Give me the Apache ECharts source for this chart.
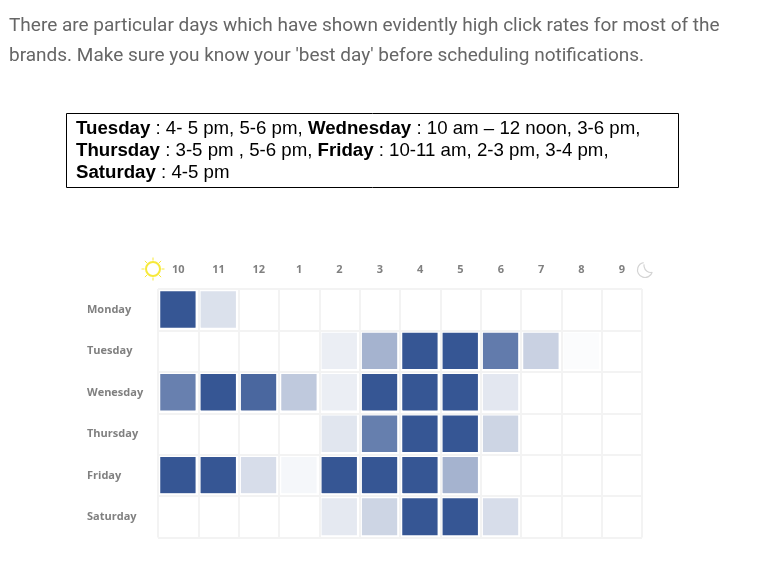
<!DOCTYPE html>
<html>
<head>
<meta charset="utf-8">
<style>
html, body { margin: 0; padding: 0; background: #fff; }
#main { width: 776px; height: 570px; }
</style>
<script src="https://cdn.jsdelivr.net/npm/echarts@6/dist/echarts.min.js"></script>
</head>
<body>
<div id="main"></div>
<script>
let hours = ['10', '11', '12', '1', '2', '3', '4', '5', '6', '7', '8', '9'];
let days = ['Monday', 'Tuesday', 'Wenesday', 'Thursday', 'Friday', 'Saturday'];

// how strong each cell looks, 0-100
let monday   = [100, 18, 0, 0, 0, 0, 0, 0, 0, 0, 0, 0];
let tuesday  = [0, 0, 0, 0, 10, 45, 100, 100, 78, 27, 2, 0];
let wenesday = [75, 100, 90, 32, 10, 100, 100, 100, 14, 0, 0, 0];
let thursday = [0, 0, 0, 0, 15, 76, 100, 100, 25, 0, 0, 0];
let friday   = [100, 100, 20, 5, 100, 100, 100, 45, 0, 0, 0, 0];
let saturday = [0, 0, 0, 0, 13, 25, 100, 100, 20, 0, 0, 0];

let rows = [monday, tuesday, wenesday, thursday, friday, saturday];
let cells = [];
rows.forEach(function (row, y) {
    row.forEach(function (v, x) {
        cells.push([x, y, v]);
    });
});

let gridLine = { show: true, lineStyle: { color: '#f3f3f3', width: 2 } };
let labelFont = '"Open Sans", sans-serif';

// sun rays
let sunRays = [];
for (let i = 0; i < 8; i++) {
    let a = i * Math.PI / 4;
    sunRays.push({
        type: 'line',
        shape: {
            x1: 153 + Math.cos(a) * 8.5, y1: 269 + Math.sin(a) * 8.5,
            x2: 153 + Math.cos(a) * 11.5, y2: 269 + Math.sin(a) * 11.5
        },
        style: { stroke: '#f7e93a', lineWidth: 1 }
    });
}

let myChart = echarts.init(document.getElementById('main'));
let option = {
    animation: false,
    backgroundColor: '#fff',
    grid: { left: 158, right: 134, top: 289, bottom: 32.5 },
    xAxis: {
        type: 'category',
        position: 'top',
        data: hours,
        z: 5,
        axisLine: { show: false },
        axisTick: { show: false },
        splitLine: gridLine,
        axisLabel: { margin: 14, color: '#808080', fontSize: 11, fontWeight: 'bold', fontFamily: labelFont }
    },
    yAxis: {
        type: 'category',
        inverse: true,
        data: days,
        z: 5,
        axisLine: { show: false },
        axisTick: { show: false },
        splitLine: gridLine,
        axisLabel: { margin: 71, align: 'left', color: '#808080', fontSize: 11, fontWeight: 'bold', fontFamily: labelFont }
    },
    visualMap: {
        show: false,
        min: 0,
        max: 100,
        inRange: { color: ['#ffffff', '#365694'] }
    },
    series: [{
        type: 'heatmap',
        data: cells,
        itemStyle: { borderColor: '#fff', borderWidth: 5 },
        emphasis: { disabled: true }
    }],
    graphic: [
        {
            type: 'text', x: 9, y: 11,
            style: {
                text: "There are particular days which have shown evidently high click rates for most of the\nbrands. Make sure you know your 'best day' before scheduling notifications.",
                font: '19px Roboto, sans-serif', fill: '#666', lineHeight: 30
            }
        },
        {
            type: 'rect',
            shape: { x: 66.5, y: 113.5, width: 612, height: 74 },
            style: { fill: '#fff', stroke: '#000', lineWidth: 1 }
        },
        {
            type: 'text', x: 76, y: 118,
            style: {
                text: '{b|Tuesday} : 4- 5 pm, 5-6 pm, {b|Wednesday} : 10 am – 12 noon, 3-6 pm,\n' +
                      '{b|Thursday} : 3-5 pm , 5-6 pm, {b|Friday} : 10-11 am, 2-3 pm, 3-4 pm,\n' +
                      '{b|Saturday} : 4-5 pm',
                font: '18.67px "Liberation Sans", sans-serif', fill: '#000', lineHeight: 22,
                rich: {
                    b: { font: 'bold 18.67px "Liberation Sans", sans-serif', fill: '#000', lineHeight: 22 }
                }
            }
        },
        {
            type: 'circle',
            shape: { cx: 153, cy: 269, r: 7 },
            style: { fill: '#fff', stroke: '#f7e93a', lineWidth: 2 }
        },
        {
            type: 'group',
            children: sunRays
        },
        {
            // moon, outer edge
            type: 'arc',
            shape: { cx: 645, cy: 270, r: 7.5, startAngle: 0.3, endAngle: -1.75, clockwise: true },
            style: { fill: 'none', stroke: '#d4d4d4', lineWidth: 1.2 }
        },
        {
            // moon, inner edge
            type: 'arc',
            shape: { cx: 651, cy: 265.5, r: 7, startAngle: 1.4, endAngle: 3.3, clockwise: true },
            style: { fill: 'none', stroke: '#d4d4d4', lineWidth: 1.2 }
        }
    ]
};
myChart.setOption(option);
</script>
</body>
</html>
